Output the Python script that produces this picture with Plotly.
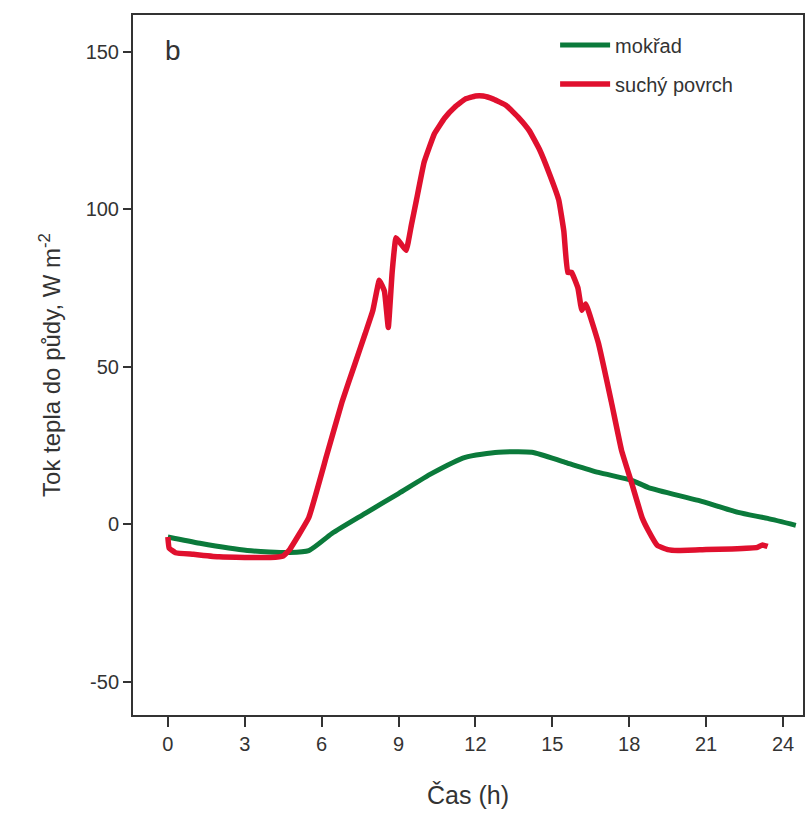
import plotly.graph_objects as go

# Data
hours_dry = [0.0, 0.05, 0.3, 1.0, 2.0, 3.0, 4.0, 4.5, 4.75, 5.5, 6.2, 6.8, 7.3, 7.7, 8.0, 8.25, 8.45, 8.6, 8.75, 8.9,
             9.1, 9.3, 9.5, 9.7, 10.0, 10.4, 10.8, 11.2, 11.6, 12.0, 12.3, 12.7, 13.2, 13.7, 14.1, 14.5, 14.9, 15.25, 15.45, 15.6, 15.75, 16.0,
             16.15, 16.3, 16.8, 17.3, 17.7, 18.1, 18.5, 18.75, 19.1, 19.5, 19.9, 21.0, 22.0, 23.0, 23.2, 23.4]
flux_dry = [-4.0, -7.5, -9.0, -9.5, -10.3, -10.5, -10.5, -10.0, -8.0, 2.2, 22.0, 39.0, 51.0, 60.6, 68.0, 77.5, 74.0, 62.5, 80.0, 91.0,
            89.0, 87.0, 95.0, 103.0, 115.0, 124.0, 129.0, 132.5, 135.0, 136.0, 136.0, 135.0, 133.0, 129.0, 125.0, 119.0, 111.0, 103.0, 93.0, 80.0, 80.0, 75.0,
            68.0, 70.0, 57.5, 39.0, 23.5, 13.0, 2.2, -2.0, -6.7, -8.0, -8.3, -8.0, -7.8, -7.3, -6.5, -7.0]

hours_wet = [0.0, 1.25, 3.1, 4.75, 5.5, 6.4, 7.7, 9.0, 10.3, 11.6, 12.9, 14.2, 15.5, 16.8, 18.1, 18.75, 20.7, 22.25, 23.4, 24.5]
flux_wet = [-4.0, -6.0, -8.3, -8.9, -8.3, -2.9, 3.5, 9.8, 16.2, 21.3, 22.9, 22.9, 19.7, 16.5, 14.0, 11.7, 7.6, 3.8, 1.9, -0.3]

x_ticks = [0, 3, 6, 9, 12, 15, 18, 21, 24]
y_ticks = [-50, 0, 50, 100, 150]
y_tick_labels = ["-50", "0", "50", "100", "150"]

names = ["mokřad", "suchý povrch"]
colors = ["#0b7a3b", "#e0102e"]

font_family = "Liberation Sans, Arial, sans-serif"
text_color = "#333333"

fig = go.Figure()
fig.add_trace(go.Scatter(x=hours_wet, y=flux_wet, mode="lines", name=names[0], legendgroup="a",
                         line=dict(color=colors[0], width=5, shape="spline", smoothing=0.6)))
fig.add_trace(go.Scatter(x=hours_dry, y=flux_dry, mode="lines", name=names[1], legendgroup="b",
                         line=dict(color=colors[1], width=5.5, shape="spline", smoothing=0.3)))

fig.update_layout(
    width=809, height=838,
    margin=dict(l=133, r=4, t=15, b=123),
    paper_bgcolor="white", plot_bgcolor="white",
    font=dict(family=font_family, color=text_color, size=20),
    showlegend=True,
    legend=dict(x=0.63, y=0.985, xanchor="left", yanchor="top",
                font=dict(size=20, color=text_color), bgcolor="rgba(0,0,0,0)",
                itemwidth=50, tracegroupgap=10),
    xaxis=dict(range=[-1.36, 24.78], tickvals=x_ticks, ticks="outside", ticklen=10, tickwidth=2,
               tickcolor="#333", showline=True, linecolor="#333", linewidth=2, mirror=True,
               showgrid=False, zeroline=False, tickfont=dict(size=20),
               title=dict(text="Čas (h)", font=dict(size=25), standoff=32)),
    yaxis=dict(range=[-60.5, 161.7], tickvals=y_ticks, ticktext=y_tick_labels, ticks="outside", ticklen=8, tickwidth=2,
               tickcolor="#333", showline=True, linecolor="#333", linewidth=2, mirror=True,
               showgrid=False, zeroline=False, tickfont=dict(size=20),
               title=dict(text="Tok tepla do půdy, W m<sup>-2</sup>", font=dict(size=24), standoff=18)),
)

fig.add_annotation(x=0.045, y=0.95, xref="paper", yref="paper", text="b", showarrow=False,
                   font=dict(size=28, color=text_color), xanchor="left", yanchor="middle")

fig.write_html("out.html")
